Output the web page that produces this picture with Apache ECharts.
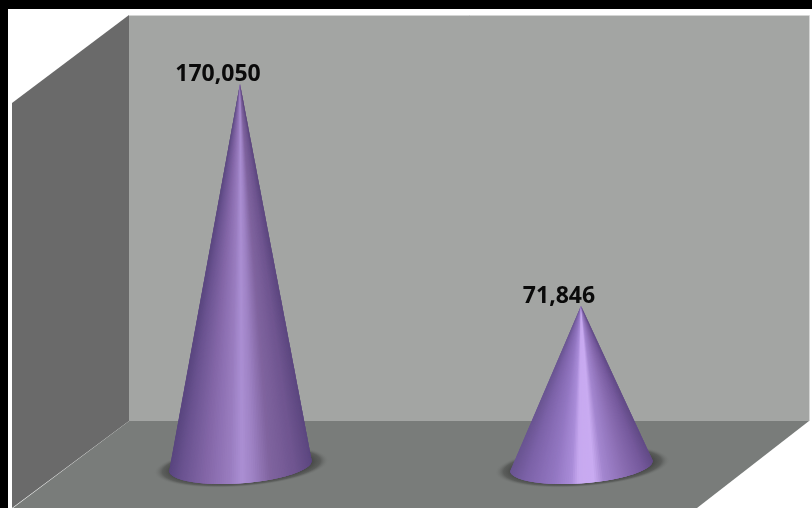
<!DOCTYPE html>
<html>
<head>
<meta charset="utf-8">
<style>html,body{margin:0;padding:0;background:#fff}#c{width:812px;height:508px}</style>
<script src="https://cdn.jsdelivr.net/npm/echarts@6/dist/echarts.min.js"></script>
</head>
<body>
<div id="c"></div>
<script>
const categories = ['Cone A', 'Cone B'];
const values = [170050, 71846];
const shadeStops = [
  [[0,'#5a4680'],[0.08,'#6a5390'],[0.25,'#8467a8'],[0.42,'#9a7dc0'],[0.5,'#ab8fd3'],[0.58,'#9e82c4'],[0.7,'#80649f'],[0.88,'#6f5590'],[1,'#5c4780']],
  [[0,'#6a5592'],[0.1,'#7c62a8'],[0.3,'#9377c2'],[0.42,'#a98cd8'],[0.47,'#c7a9f0'],[0.58,'#c9abf1'],[0.65,'#a386cf'],[0.8,'#8a6db2'],[0.93,'#75599c'],[1,'#634c88']]
];

function hex(c){return [1,3,5].map(i=>parseInt(c.substr(i,2),16));}
function shadeAt(stops,f){
  for(let i=1;i<stops.length;i++){
    if(f<=stops[i][0]){
      const a=stops[i-1],b=stops[i],k=(f-a[0])/(b[0]-a[0]);
      const A=hex(a[1]),B=hex(b[1]);
      return 'rgb('+A.map((v,j)=>Math.round(v+(B[j]-v)*k)).join(',')+')';
    }
  }
  return stops[stops.length-1][1];
}

function renderCone(params, api){
  const idx = api.value(0), val = api.value(1);
  const tip = api.coord([idx,val]);
  const base = api.coord([idx,0]);
  const band = api.size([1,0])[0];
  const a = band*0.2095, b = 17.5;
  const tilt = -4.2*Math.PI/180;
  const cx = base[0]+0.4, cy = base[1]-2.6;
  const cos=Math.cos(tilt), sin=Math.sin(tilt);
  const pt = t=>{
    const x=a*Math.cos(t), y=b*Math.sin(t);
    return [cx+x*cos-y*sin, cy+x*sin+y*cos];
  };
  const children = [];
  children.push({
    type:'circle', silent:true,
    shape:{cx:0,cy:0,r:88},
    x:cx+1, y:cy+0.5, rotation:-tilt, scaleX:1, scaleY:0.235,
    style:{fill:{type:'radial',x:0.5,y:0.5,r:0.5,colorStops:[
      {offset:0,color:'rgba(70,72,70,1)'},{offset:0.8,color:'rgba(72,74,72,1)'},
      {offset:0.9,color:'rgba(84,86,84,0.8)'},{offset:1,color:'rgba(121,124,122,0)'}]}}
  });
  const N=110;
  for(let i=0;i<N;i++){
    const t0=Math.PI-Math.PI*i/N, t1=Math.PI-Math.PI*Math.min(i+3,N)/N;
    const tm=Math.PI-Math.PI*Math.min(i+1.5,N)/N;
    const f=(i+0.5)/N;
    const frac=(1-Math.cos(Math.PI*f))/2;
    const col=shadeAt(shadeStops[idx],frac);
    // each slice overlaps the next ones, so no seams show between them
    children.push({type:'polygon',silent:true,
      shape:{points:[tip,pt(t0),pt(tm),pt(t1)]},
      style:{fill:col}});
  }
  children.push({type:'text',silent:true,x:tip[0]-22,y:tip[1]-10,
    style:{text:val.toLocaleString('en-US'),fill:'#0a0a0a',
      font:'bold 23px "Open Sans"',align:'center',verticalAlign:'middle'}});
  return {type:'group',children};
}

const chart = echarts.init(document.getElementById('c'),null,{renderer:'canvas'});
chart.setOption({
  animation:false,
  backgroundColor:'#ffffff',
  grid:{left:69.5,top:16.3,width:682,height:452.1},
  xAxis:{type:'category',data:categories,show:false},
  yAxis:{type:'value',min:0,max:200000,show:false},
  graphic:{elements:[
    {type:'rect',silent:true,shape:{x:0,y:0,width:812,height:9},style:{fill:'#000'}},
    {type:'rect',silent:true,shape:{x:0,y:0,width:8,height:508},style:{fill:'#000'}},
    {type:'rect',silent:true,shape:{x:129,y:15,width:680,height:406},style:{fill:'#a3a5a3'}},
    {type:'polyline',silent:true,shape:{points:[[129,15.5],[809.5,15.5],[809.5,421]]},style:{fill:'none',stroke:'#d4d5d4',lineWidth:1}},
    {type:'polygon',silent:true,shape:{points:[[12,103],[129,15],[129,421],[12,508]]},style:{fill:'#6a6a6a'}},
    {type:'polygon',silent:true,shape:{points:[[129,421],[809,421],[697,508],[13,508]]},style:{fill:'#797c7a'}}
  ]},
  series:[{
    type:'custom',
    coordinateSystem:'cartesian2d',
    clip:false,
    data:categories.map((c,i)=>[i,values[i]]),
    encode:{x:0,y:1},
    renderItem:renderCone
  }]
});
</script>
</body>
</html>
